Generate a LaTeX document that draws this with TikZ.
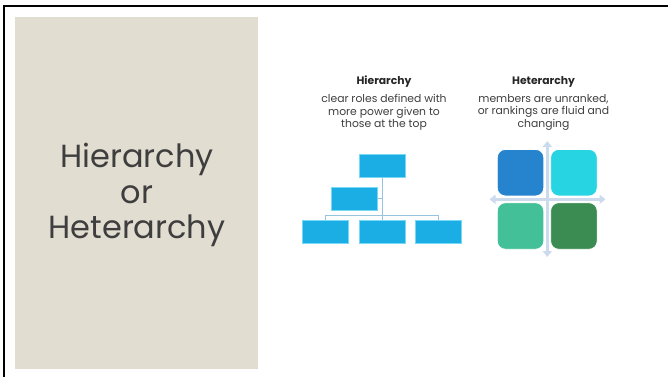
\documentclass[tikz,border=0pt]{standalone}
\usepackage{fontspec}
\setmainfont{Poppins}
\usetikzlibrary{arrows.meta}
\definecolor{panelbeige}{RGB}{226,221,209}
\definecolor{boxblue}{RGB}{27,174,228}
\definecolor{boxedge}{RGB}{120,215,245}
\definecolor{orgline}{RGB}{150,195,222}
\definecolor{axisblue}{RGB}{204,218,238}
\definecolor{qblue}{RGB}{38,132,206}
\definecolor{qcyan}{RGB}{38,212,226}
\definecolor{qteal}{RGB}{68,192,152}
\definecolor{qgreen}{RGB}{58,140,82}
\definecolor{textgray}{RGB}{62,62,62}
\tikzset{
  orgbox/.style={draw=boxedge,line width=0.8pt,fill=boxblue,minimum width=46pt,minimum height=23pt,inner sep=0pt},
  orglink/.style={draw=orgline,line width=1.2pt},
  quad/.style={rounded corners=8pt,minimum size=46.5pt,inner sep=0pt,draw=white,line width=0.8pt},
  axis/.style={draw=axisblue,line width=3.5pt,{Triangle[width=9pt,length=6pt]}-{Triangle[width=9pt,length=6pt]}},
  heading/.style={font=\fontsize{10.8}{12}\selectfont\bfseries,text=black!85},
  blurb/.style={font=\fontsize{10.8}{12.4}\selectfont,text=textgray,align=center}
}
\begin{document}
\begin{tikzpicture}[x=1pt,y=-1pt]
\useasboundingbox (0,0) rectangle (668,377);
% frame and side panel
\draw[line width=1.8pt] (3.9,377) -- (3.9,6) -- (668,6);
\fill[panelbeige] (15,17.5) rectangle (258,369);
\node[font=\fontsize{32}{35.5}\selectfont,text=textgray,align=center] (title) at (137,195) {Hierarchy\\or\\Heterarchy};
% captions
\node[heading] (hierhead) at (384,81.5) {Hierarchy};
\node[blurb,anchor=north] (hiertext) at (384,91) {clear roles defined with\\more power given to\\those at the top};
\node[heading] (heterhead) at (543.5,81.5) {Heterarchy};
\node[blurb,anchor=north] (hetertext) at (543.5,91) {members are unranked,\\or rankings are fluid and\\changing};
% org chart
\node[orgbox] (top) at (382.3,165.8) {};
\node[orgbox] (mid) at (354,198.8) {};
\node[orgbox] (b1) at (325.7,232.2) {};
\node[orgbox] (b2) at (382.3,232.2) {};
\node[orgbox] (b3) at (438.5,232.2) {};
\coordinate (bus) at (382.3,215.7);
\draw[orglink] (top.south) -- (b2.north);
\draw[orglink] (mid.east) -- (mid.east -| top.south);
\draw[orglink] (b1.north) |- (bus) -| (b3.north);
% quadrants
\coordinate (vtop) at (547.3,141);
\coordinate (vbot) at (547.3,257);
\coordinate (hleft) at (489.5,199.3);
\coordinate (hright) at (605.5,199.3);
\draw[axis] (vtop) -- (vbot);
\draw[axis] (hleft) -- (hright);
\node[quad,fill=qblue] (q1) at (520.5,172.7) {};
\node[quad,fill=qcyan] (q2) at (573.9,172.7) {};
\node[quad,fill=qteal] (q3) at (520.5,226) {};
\node[quad,fill=qgreen] (q4) at (573.9,226) {};
\end{tikzpicture}
\end{document}
